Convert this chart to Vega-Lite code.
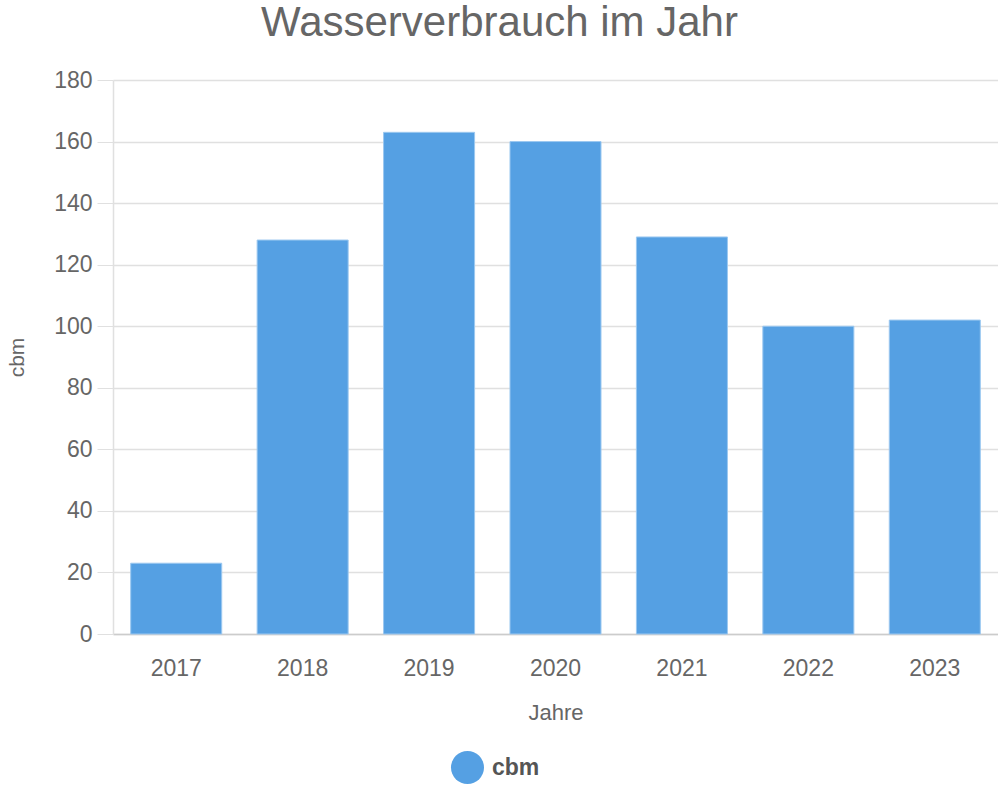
{
  "$schema": "https://vega.github.io/schema/vega-lite/v6.json",
  "width": 885,
  "height": 554,
  "autosize": {"type": "none"},
  "padding": {"left": 113, "top": 80, "right": 0, "bottom": 166},
  "background": "white",
  "title": {
    "text": "Wasserverbrauch im Jahr",
    "anchor": "middle",
    "frame": "group",
    "font": "Liberation Sans",
    "fontSize": 42,
    "fontWeight": "normal",
    "color": "#666666",
    "baseline": "alphabetic",
    "offset": -9,
    "dx": -56
  },
  "data": {
    "values": [
      {"Jahr": "2017", "cbm": 23},
      {"Jahr": "2018", "cbm": 128},
      {"Jahr": "2019", "cbm": 163},
      {"Jahr": "2020", "cbm": 160},
      {"Jahr": "2021", "cbm": 129},
      {"Jahr": "2022", "cbm": 100},
      {"Jahr": "2023", "cbm": 102}
    ]
  },
  "mark": {"type": "bar", "stroke": "#9cc8f0", "strokeWidth": 1},
  "encoding": {
    "x": {
      "field": "Jahr",
      "type": "ordinal",
      "title": "Jahre",
      "scale": {"paddingInner": 0.28, "paddingOuter": 0.14},
      "axis": {
        "labelAngle": 0,
        "ticks": false,
        "labelPadding": 23,
        "titlePadding": 22,
        "titleFontSize": 22,
        "domainColor": "#cccccc",
        "domainWidth": 1.5
      }
    },
    "y": {
      "field": "cbm",
      "type": "quantitative",
      "title": "cbm",
      "scale": {"domain": [0, 180], "nice": false},
      "axis": {
        "values": [0, 20, 40, 60, 80, 100, 120, 140, 160, 180],
        "tickSize": 16,
        "tickColor": "#e0e0e0",
        "labelPadding": 5,
        "titlePadding": 26,
        "domainColor": "#e0e0e0",
        "domainWidth": 1.5,
        "gridColor": "#e0e0e0",
        "gridWidth": 1.5
      }
    },
    "color": {
      "datum": "cbm",
      "scale": {"range": ["#55a0e3"]},
      "legend": {
        "title": null,
        "orient": "none",
        "legendX": 338,
        "legendY": 671,
        "symbolType": "circle",
        "symbolSize": 1089,
        "symbolStrokeWidth": 0,
        "labelFont": "Liberation Sans",
        "labelFontSize": 23,
        "labelFontWeight": "bold",
        "labelColor": "#555555",
        "labelOffset": 8
      }
    }
  },
  "config": {
    "view": {"stroke": null},
    "axis": {
      "labelFont": "Liberation Sans",
      "labelFontSize": 23,
      "labelColor": "#666666",
      "titleFont": "Liberation Sans",
      "titleFontSize": 21,
      "titleFontWeight": "normal",
      "titleColor": "#666666"
    }
  }
}
